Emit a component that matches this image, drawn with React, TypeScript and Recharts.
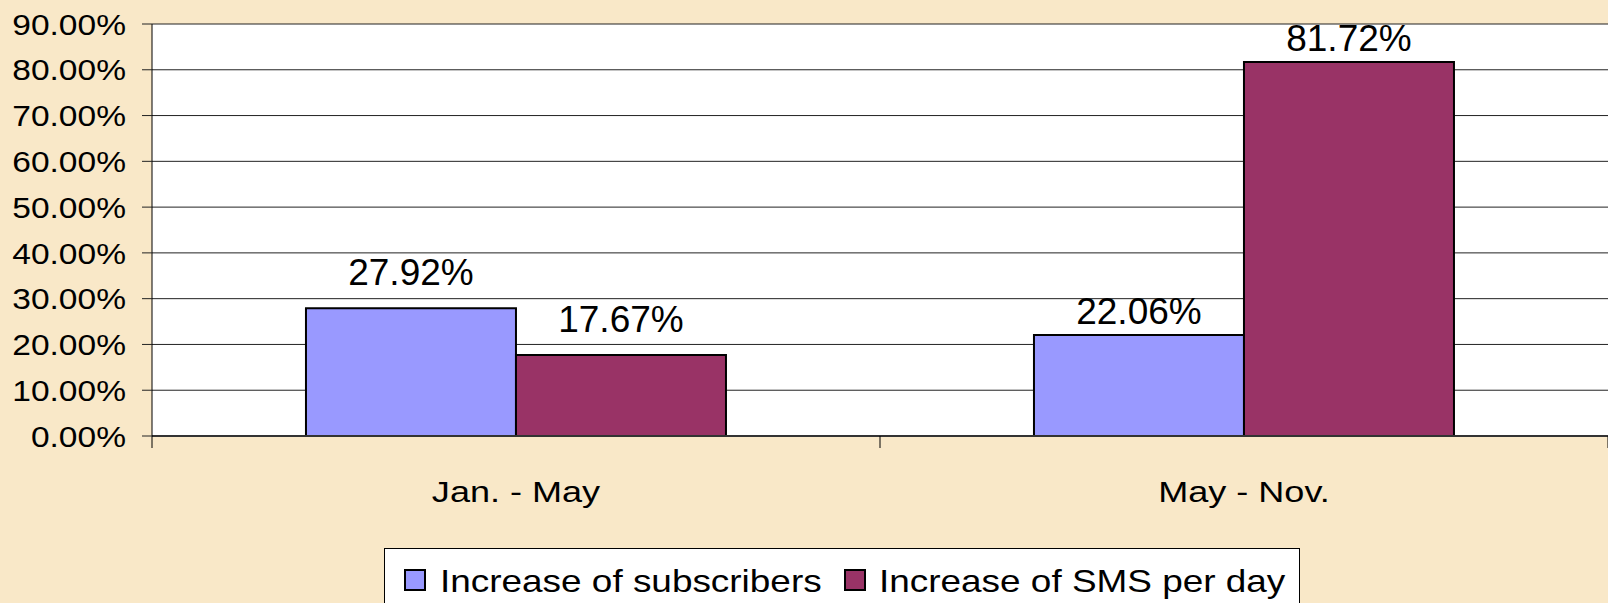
import React from "react";
import { BarChart, Bar, XAxis, YAxis, CartesianGrid, Legend } from "recharts";

const categories = ["Jan. - May", "May - Nov."];
const subscribers = [27.92, 22.06];
const smsPerDay = [17.67, 81.72];
const yTicks = [0, 10, 20, 30, 40, 50, 60, 70, 80, 90];
const seriesOrder = ["subscribers", "sms"];

const data = categories.map((c, i) => ({
  period: c,
  subscribers: subscribers[i],
  sms: smsPerDay[i],
}));

const W = 1608;
const H = 603;
const TOP = 24;
const LEFT = 152;
const XAXIS_H = 60;
const AXIS_Y = 436;
const HALF_BAND = (W - LEFT) / categories.length / 2;
const FONT = "'Liberation Sans', Arial, Helvetica, sans-serif";
const LABEL_GAP = [23, 11];

const fmt = (v: number) => `${v.toFixed(2)}%`;

const YTick = (props: any) => {
  const { y, payload } = props;
  return (
    <g>
      <line x1={LEFT - 10} x2={LEFT} y1={y} y2={y} stroke="#222" />
      <text
        transform={`translate(${LEFT - 26},${y}) scale(1.13,1)`}
        textAnchor="end"
        dy="0.36em"
        fontSize={29.7}
        fontFamily={FONT}
        fill="#000"
      >
        {fmt(payload.value)}
      </text>
    </g>
  );
};

const XTick = (props: any) => {
  const { x, payload, index } = props;
  const last = index === categories.length - 1;
  return (
    <g>
      <line x1={x - HALF_BAND} x2={x - HALF_BAND} y1={AXIS_Y} y2={AXIS_Y + 12} stroke="#000" />
      {last && <line x1={x + HALF_BAND} x2={x + HALF_BAND} y1={AXIS_Y} y2={AXIS_Y + 12} stroke="#000" />}
      <text
        transform={`translate(${x},${AXIS_Y + 66}) scale(1.19,1)`}
        textAnchor="middle"
        fontSize={30.3}
        fontFamily={FONT}
        fill="#000"
      >
        {payload.value}
      </text>
    </g>
  );
};

const BarLabel = (props: any) => {
  const { x, y, width, value, index } = props;
  return (
    <text
      x={x + width / 2}
      y={y - LABEL_GAP[index ?? 0]}
      textAnchor="middle"
      fontSize={37}
      fontFamily={FONT}
      fill="#000"
    >
      {fmt(value)}
    </text>
  );
};

const legendPos = [
  { sq: 19, tx: 55 },
  { sq: 459, tx: 494 },
];

const renderLegend = (props: any) => {
  const items = [...(props.payload || [])].sort(
    (a: any, b: any) => seriesOrder.indexOf(a.dataKey) - seriesOrder.indexOf(b.dataKey)
  );
  return (
    <div
      style={{
        position: "relative",
        width: 916,
        height: 70,
        background: "#fff",
        border: "1px solid #000",
        boxSizing: "border-box",
        fontFamily: FONT,
      }}
    >
      {items.map((it: any, i: number) => (
        <React.Fragment key={it.value}>
          <span
            style={{
              position: "absolute",
              left: legendPos[i].sq,
              top: 20,
              width: 22,
              height: 22,
              background: it.color,
              border: "2px solid #000",
              boxSizing: "border-box",
            }}
          />
          <span
            style={{
              position: "absolute",
              left: legendPos[i].tx,
              top: 17,
              fontSize: 31.7,
              lineHeight: 1,
              whiteSpace: "nowrap",
              color: "#000",
              transform: "scaleX(1.165)",
              transformOrigin: "left center",
            }}
          >
            {it.value}
          </span>
        </React.Fragment>
      ))}
    </div>
  );
};

export default function App() {
  return (
    <div
      style={{
        position: "absolute",
        left: 0,
        top: 0,
        width: W,
        height: H,
        overflow: "hidden",
        background: "#F9E8C8",
      }}
    >
      <BarChart
        width={W}
        height={H}
        data={data}
        margin={{ top: TOP, right: 0, left: 0, bottom: H - AXIS_Y - XAXIS_H }}
        barCategoryGap="21.15%"
        barGap={0}
      >
        <CartesianGrid vertical={false} stroke="#222" fill="#fff" />
        <XAxis
          dataKey="period"
          height={XAXIS_H}
          interval={0}
          tickLine={false}
          axisLine={{ stroke: "#333", strokeWidth: 2 }}
          tick={XTick}
        />
        <YAxis
          width={LEFT}
          domain={[0, 90]}
          ticks={yTicks}
          interval={0}
          tickLine={false}
          axisLine={{ stroke: "#000" }}
          tick={YTick}
        />
        <Legend
          layout="vertical"
          verticalAlign="middle"
          align="center"
          content={renderLegend}
          wrapperStyle={{ position: "absolute", left: 384, top: 548, bottom: "auto", width: 916, height: 70 }}
        />
        <Bar
          dataKey="subscribers"
          name="Increase of subscribers"
          fill="#9999FF"
          stroke="#000"
          strokeWidth={2}
          isAnimationActive={false}
          label={BarLabel}
        />
        <Bar
          dataKey="sms"
          name="Increase of SMS per day"
          fill="#993366"
          stroke="#000"
          strokeWidth={2}
          isAnimationActive={false}
          label={BarLabel}
        />
      </BarChart>
    </div>
  );
}
